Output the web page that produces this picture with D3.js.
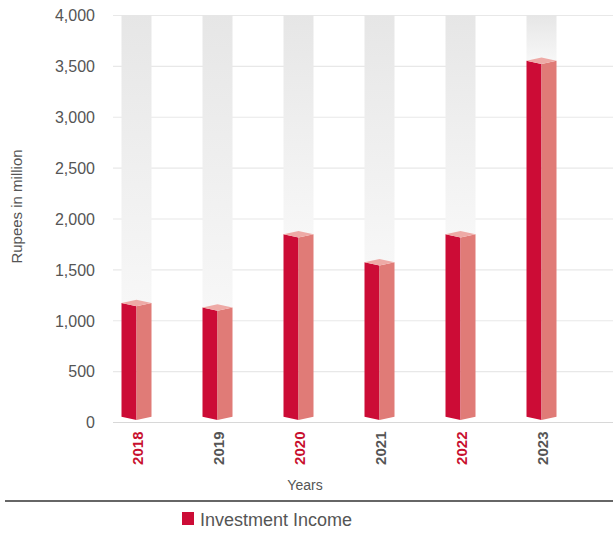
<!DOCTYPE html>
<html><head><meta charset="utf-8">
<script src="https://cdn.jsdelivr.net/npm/d3@7"></script>
<style>body{margin:0;background:#fff;}svg{display:block;font-family:"Liberation Sans",Arial,sans-serif;}</style>
</head><body>
<svg id="c" width="613" height="533"></svg>
<script>
const categories = ["2018","2019","2020","2021","2022","2023"];
const values = [1170, 1125, 1845, 1570, 1845, 3550];
const yTicks = [0,500,1000,1500,2000,2500,3000,3500,4000];
const labelColors = ["#c8102e","#555555","#c8102e","#555555","#c8102e","#555555"];
const seriesName = "Investment Income";

const svg = d3.select("#c");
const y = d3.scaleLinear().domain([0,4000]).range([422,15]);
const x = d3.scaleBand().domain(categories).range([96,582]);
const bw = 30, dep = 3.3;
const cx = d => x(d) + x.bandwidth()/2;

const defs = svg.append("defs");
const g = defs.append("linearGradient").attr("id","bg").attr("x1",0).attr("y1",0).attr("x2",0).attr("y2",1);
g.append("stop").attr("offset","0%").attr("stop-color","#e6e6e6");
g.append("stop").attr("offset","100%").attr("stop-color","#f7f7f7");

// gridlines
svg.append("g").selectAll("line").data(yTicks).join("line")
  .attr("x1",113).attr("x2",613).attr("y1",d=>y(d)+0.5).attr("y2",d=>y(d)+0.5)
  .attr("stroke",d=>d===0?"#d8d8d8":"#e8e8e8").attr("stroke-width",1.2);

// y labels
svg.append("g").selectAll("text").data(yTicks).join("text")
  .attr("x",95).attr("y",d=>y(d)+6.3).attr("text-anchor","end")
  .attr("font-size",16).attr("fill","#555").text(d=>d3.format(",")(d));

svg.append("text").attr("transform","translate(21.5,206.5) rotate(-90)")
  .attr("text-anchor","middle").attr("font-size",15).attr("fill","#555").text("Rupees in million");

// background columns
const data = categories.map((c,i)=>({c, v: values[i]}));
svg.append("g").selectAll("rect").data(data).join("rect")
  .attr("x",d=>cx(d.c)-bw/2).attr("width",bw)
  .attr("y",y(4000)).attr("height",d=>y(d.v)-y(4000))
  .attr("fill","url(#bg)");

const bars = svg.append("g").selectAll("g").data(data).join("g");
const base = y(0) - 2;
// left face
bars.append("path").attr("fill","#cc0c36").attr("d",d=>{
  const c=cx(d.c), l=c-bw/2, t=y(d.v);
  return `M${l},${t} L${c},${t+dep} L${c},${base} L${l},${base-dep} Z`;
});
// right face
bars.append("path").attr("fill","#e07b77").attr("d",d=>{
  const c=cx(d.c), r=c+bw/2, t=y(d.v);
  return `M${c},${t+dep} L${r},${t} L${r},${base-dep} L${c},${base} Z`;
});
// top
bars.append("path").attr("fill","#eeaaa6").attr("d",d=>{
  const c=cx(d.c), l=c-bw/2, r=c+bw/2, t=y(d.v);
  return `M${l},${t} L${c},${t-dep} L${r},${t} L${c},${t+dep} Z`;
});

// x labels
svg.append("g").selectAll("text").data(categories).join("text")
  .attr("transform",d=>`translate(${cx(d)+6.8},431.5) rotate(-90)`)
  .attr("text-anchor","end").attr("font-size",15).attr("font-weight","bold")
  .attr("fill",(d,i)=>labelColors[i]).text(d=>d);

svg.append("text").attr("x",305).attr("y",490).attr("text-anchor","middle")
  .attr("font-size",14).attr("fill","#555").text("Years");

svg.append("line").attr("x1",5).attr("x2",613).attr("y1",501).attr("y2",501)
  .attr("stroke","#666").attr("stroke-width",2);

svg.append("rect").attr("x",182).attr("y",512).attr("width",12).attr("height",13).attr("fill","#cc0c36");
svg.append("text").attr("x",200).attr("y",526).attr("font-size",18).attr("fill","#555").text(seriesName);
</script>
</body></html>
